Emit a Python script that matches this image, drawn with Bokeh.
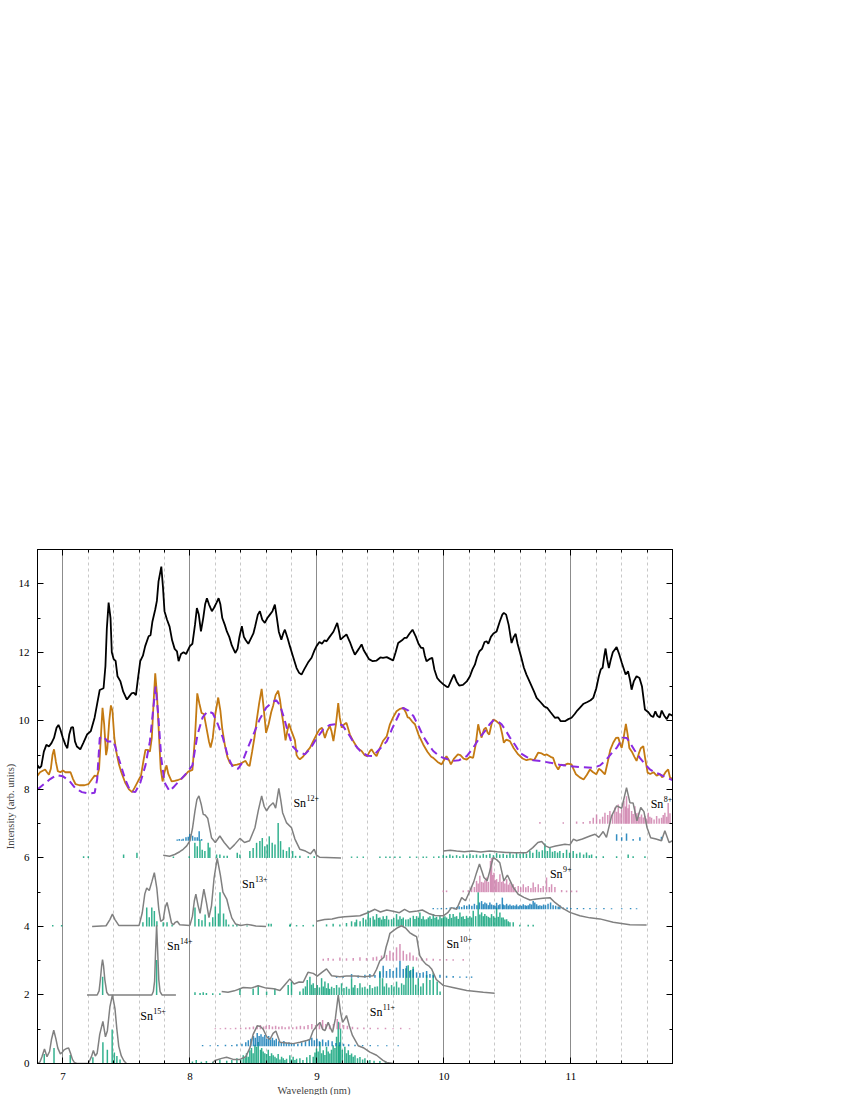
from bokeh.plotting import figure
from bokeh.models import (Range1d, SingleIntervalTicker, LinearAxis, Title,
                          CustomJSTickFormatter, ColumnDataSource)
from bokeh.core.properties import value
from bokeh.embed import file_html
from bokeh.resources import INLINE

# ---------------- data ----------------
exp_black = [(6.80,8.70),(6.815,8.62),(6.83,8.68),(6.85,9.10),(6.87,9.30),(6.89,9.25),(6.91,9.35),(6.93,9.50),
 (6.95,9.80),(6.965,9.88),(6.98,9.75),(7.00,9.50),(7.02,9.30),(7.035,9.20),(7.05,9.60),(7.065,9.80),(7.08,9.82),
 (7.095,9.40),(7.11,9.25),(7.137,9.17),(7.16,9.35),(7.19,9.60),(7.22,9.70),(7.25,10.10),(7.27,10.50),(7.29,10.90),
 (7.32,10.95),(7.335,11.6),(7.346,12.7),(7.36,13.45),(7.375,13.0),(7.385,12.0),(7.40,11.8),(7.415,11.75),(7.43,11.3),
 (7.452,11.16),(7.475,10.85),(7.504,10.62),(7.52,10.7),(7.54,10.8),(7.557,10.82),(7.575,10.75),(7.59,11.2),
 (7.609,11.74),(7.63,11.9),(7.648,12.18),(7.675,12.47),(7.69,12.5),(7.705,12.9),(7.727,13.25),(7.74,13.5),
 (7.753,14.07),(7.775,14.5),(7.788,13.9),(7.80,13.2),(7.82,12.95),(7.84,12.75),(7.86,12.35),(7.88,12.1),(7.898,12.03),
 (7.911,11.74),(7.93,11.95),(7.95,12.0),(7.97,11.95),(8.00,12.18),(8.02,12.25),(8.04,12.8),(8.055,13.29),(8.07,13.1),
 (8.087,12.61),(8.105,13.0),(8.12,13.4),(8.134,13.58),(8.15,13.4),(8.173,13.2),(8.19,13.3),(8.21,13.45),(8.226,13.58),
 (8.24,13.4),(8.255,13.0),(8.275,12.8),(8.291,12.61),(8.31,12.45),(8.33,12.2),(8.357,11.98),(8.375,12.1),(8.39,12.45),
 (8.409,12.76),(8.425,12.45),(8.44,12.35),(8.46,12.25),(8.48,12.4),(8.50,12.55),(8.514,12.76),(8.535,13.1),(8.551,13.2),
 (8.57,12.95),(8.59,12.86),(8.61,13.0),(8.63,13.1),(8.65,13.2),(8.669,13.39),(8.685,13.0),(8.70,12.6),(8.72,12.37),
 (8.735,12.55),(8.748,12.66),(8.77,12.4),(8.787,12.18),(8.81,11.9),(8.84,11.54),(8.86,11.4),(8.879,11.35),(8.90,11.5),
 (8.93,11.7),(8.958,11.84),(8.98,12.05),(8.997,12.18),(9.02,12.3),(9.04,12.25),(9.06,12.35),(9.076,12.32),(9.10,12.45),
 (9.13,12.6),(9.16,12.86),(9.175,12.6),(9.186,12.37),(9.21,12.45),(9.233,12.52),(9.26,12.3),(9.28,12.1),(9.299,11.93),
 (9.33,12.1),(9.352,12.23),(9.37,12.05),(9.39,11.93),(9.41,11.8),(9.44,11.74),(9.47,11.76),(9.50,11.85),(9.52,11.84),
 (9.55,11.86),(9.58,11.8),(9.60,11.76),(9.62,12.0),(9.64,12.27),(9.67,12.35),(9.69,12.42),(9.706,12.42),(9.73,12.55),
 (9.753,12.66),(9.78,12.45),(9.80,12.25),(9.82,12.13),(9.837,12.13),(9.85,11.9),(9.863,11.74),(9.885,11.8),(9.908,11.84),
 (9.925,11.5),(9.947,11.25),(9.97,11.15),(10.00,11.05),(10.02,11.0),(10.034,10.98),(10.06,11.2),(10.079,11.35),
 (10.10,11.15),(10.12,11.03),(10.15,11.05),(10.18,11.15),(10.205,11.3),(10.225,11.5),(10.244,11.64),(10.26,11.85),
 (10.28,12.03),(10.30,12.1),(10.32,12.3),(10.336,12.32),(10.35,12.25),(10.37,12.45),(10.39,12.55),(10.415,12.61),
 (10.44,12.9),(10.46,13.1),(10.472,13.15),(10.49,13.1),(10.51,12.8),(10.533,12.27),(10.55,12.45),(10.565,12.54),
 (10.58,12.25),(10.61,11.84),(10.63,11.55),(10.65,11.35),(10.68,11.1),(10.71,10.85),(10.73,10.67),(10.76,10.55),
 (10.79,10.42),(10.813,10.38),(10.84,10.25),(10.874,10.09),(10.90,10.1),(10.92,9.99),(10.953,9.99),(10.98,10.05),
 (11.005,10.09),(11.03,10.2),(11.05,10.3),(11.07,10.38),(11.10,10.5),(11.13,10.55),(11.155,10.6),(11.176,10.67),
 (11.20,10.95),(11.22,11.3),(11.235,11.5),(11.25,11.55),(11.263,11.9),(11.273,12.11),(11.285,11.8),(11.299,11.54),
 (11.315,11.8),(11.33,12.0),(11.36,12.15),(11.38,11.95),(11.40,11.7),(11.431,11.35),(11.45,11.45),(11.465,11.2),
 (11.478,10.91),(11.495,11.15),(11.517,11.3),(11.54,11.25),(11.56,11.0),(11.583,10.33),(11.61,10.25),(11.63,10.15),
 (11.648,10.11),(11.665,10.28),(11.68,10.15),(11.70,10.1),(11.715,10.3),(11.735,10.15),(11.755,10.05),(11.775,10.2),
 (11.80,10.15)]

exp_orange = [(6.80,8.40),(6.82,8.50),(6.845,8.55),(6.86,8.58),(6.875,8.50),(6.89,8.43),(6.905,8.6),(6.918,9.0),
 (6.93,9.17),(6.945,8.8),(6.96,8.53),(6.98,8.50),(7.00,8.55),(7.02,8.50),(7.04,8.50),(7.06,8.5),(7.08,8.3),(7.10,8.15),
 (7.13,8.12),(7.17,8.12),(7.20,8.15),(7.23,8.3),(7.25,8.4),(7.27,8.38),(7.285,8.6),(7.30,9.6),(7.312,10.38),(7.325,9.9),
 (7.34,9.0),(7.35,9.2),(7.365,10.0),(7.378,10.45),(7.39,10.3),(7.405,9.5),(7.42,9.1),(7.44,8.75),(7.46,8.5),(7.49,8.2),
 (7.52,8.0),(7.545,7.92),(7.565,8.05),(7.593,8.25),(7.615,8.4),(7.635,8.85),(7.65,9.15),(7.67,9.15),(7.685,9.1),
 (7.70,9.5),(7.715,10.6),(7.727,11.39),(7.74,10.8),(7.755,9.7),(7.77,8.6),(7.785,8.23),(7.80,8.5),(7.816,8.7),
 (7.83,8.45),(7.856,8.23),(7.88,8.25),(7.91,8.28),(7.934,8.31),(7.96,8.4),(7.987,8.52),(8.02,8.57),(8.04,9.5),
 (8.058,10.8),(8.075,10.5),(8.092,10.23),(8.11,10.2),(8.13,9.8),(8.15,9.4),(8.163,9.22),(8.18,9.5),(8.20,10.2),
 (8.223,10.68),(8.24,10.3),(8.254,9.79),(8.275,9.3),(8.295,8.95),(8.315,8.77),(8.34,8.7),(8.37,8.72),(8.40,8.75),
 (8.42,8.8),(8.438,8.83),(8.455,8.72),(8.47,8.68),(8.49,9.1),(8.51,9.55),(8.525,9.99),(8.545,10.5),(8.565,10.93),
 (8.58,10.4),(8.60,9.65),(8.62,9.9),(8.64,10.25),(8.656,10.45),(8.675,10.75),(8.695,10.88),(8.71,10.6),(8.72,10.31),
 (8.737,9.9),(8.753,9.43),(8.767,9.7),(8.78,9.92),(8.80,9.7),(8.827,9.43),(8.84,9.0),(8.853,8.92),(8.866,8.88),
 (8.89,8.95),(8.92,9.1),(8.945,9.21),(8.97,9.4),(8.997,9.6),(9.02,9.75),(9.04,9.8),(9.063,9.5),(9.08,9.7),(9.102,9.85),
 (9.115,9.7),(9.13,9.41),(9.15,9.9),(9.168,10.52),(9.18,10.1),(9.195,9.8),(9.215,9.9),(9.233,9.94),(9.26,9.6),
 (9.286,9.41),(9.32,9.2),(9.352,9.12),(9.375,9.0),(9.396,8.97),(9.415,9.1),(9.43,9.17),(9.45,9.05),(9.47,8.97),
 (9.495,9.2),(9.52,9.41),(9.55,9.55),(9.575,9.9),(9.60,10.1),(9.627,10.28),(9.655,10.35),(9.68,10.38),(9.70,10.25),
 (9.715,10.1),(9.727,10.09),(9.75,9.98),(9.772,9.9),(9.80,9.6),(9.837,9.31),(9.87,9.1),(9.90,8.95),(9.916,8.92),
 (9.95,8.8),(9.982,8.73),(10.00,8.85),(10.02,8.97),(10.04,8.85),(10.055,8.73),(10.08,8.9),(10.11,9.02),(10.13,9.0),
 (10.155,8.9),(10.18,8.87),(10.205,8.95),(10.23,8.92),(10.25,9.3),(10.27,9.9),(10.285,9.65),(10.297,9.51),(10.315,9.75),
 (10.33,9.8),(10.345,9.65),(10.357,9.6),(10.375,9.9),(10.388,10.04),(10.41,10.0),(10.441,9.9),(10.46,9.6),(10.472,9.36),
 (10.49,9.45),(10.52,9.41),(10.55,9.2),(10.585,9.02),(10.62,8.9),(10.65,8.85),(10.68,8.88),(10.71,8.85),(10.742,9.07),
 (10.77,9.05),(10.79,9.0),(10.81,9.02),(10.84,8.95),(10.86,8.92),(10.88,8.7),(10.90,8.58),(10.92,8.72),(10.945,8.7),
 (10.975,8.75),(11.005,8.73),(11.02,8.6),(11.04,8.44),(11.07,8.35),(11.10,8.29),(11.125,8.42),(11.15,8.58),(11.175,8.5),
 (11.20,8.44),(11.22,8.6),(11.24,8.55),(11.268,8.44),(11.29,8.8),(11.31,9.15),(11.333,9.36),(11.355,9.5),(11.373,9.51),
 (11.39,9.3),(11.40,9.21),(11.415,9.5),(11.433,9.91),(11.447,9.6),(11.46,9.21),(11.48,9.1),(11.50,8.95),(11.517,8.83),
 (11.535,9.05),(11.55,9.2),(11.57,9.26),(11.585,8.9),(11.604,8.49),(11.625,8.45),(11.65,8.5),(11.675,8.4),(11.70,8.45),
 (11.72,8.35),(11.745,8.5),(11.766,8.58),(11.78,8.35),(11.80,8.3)]

model_purple = [(6.80,8.0),(6.85,8.15),(6.90,8.3),(6.95,8.42),(7.00,8.38),(7.05,8.25),(7.10,8.02),(7.15,7.92),
 (7.20,7.88),(7.25,7.9),(7.27,8.3),(7.29,9.5),(7.32,9.55),(7.35,9.4),(7.40,9.4),(7.44,8.9),(7.49,8.3),(7.53,7.95),
 (7.57,7.92),(7.61,8.2),(7.65,8.7),(7.685,9.4),(7.71,10.3),(7.73,11.0),(7.75,10.2),(7.775,8.9),(7.80,8.2),(7.84,7.95),
 (7.88,8.1),(7.93,8.3),(7.98,8.5),(8.02,8.7),(8.06,9.6),(8.10,10.1),(8.14,10.28),(8.18,10.22),(8.22,9.9),(8.26,9.5),
 (8.30,8.95),(8.34,8.63),(8.38,8.6),(8.41,8.77),(8.46,9.25),(8.50,9.6),(8.55,10.05),(8.60,10.38),(8.65,10.55),
 (8.68,10.6),(8.71,10.45),(8.74,10.1),(8.77,9.7),(8.81,9.25),(8.85,9.1),(8.906,9.02),(8.95,9.2),(9.00,9.5),(9.05,9.75),
 (9.10,9.88),(9.15,9.9),(9.20,9.88),(9.26,9.55),(9.30,9.3),(9.34,9.12),(9.40,8.98),(9.44,8.97),(9.50,9.2),(9.55,9.4),
 (9.59,9.75),(9.627,10.04),(9.66,10.3),(9.68,10.38),(9.72,10.3),(9.76,10.14),(9.80,9.85),(9.837,9.55),(9.88,9.3),
 (9.916,9.12),(9.96,8.98),(9.995,8.92),(10.03,8.88),(10.07,8.83),(10.12,8.85),(10.18,8.97),(10.23,9.21),(10.28,9.5),
 (10.323,9.7),(10.36,9.9),(10.388,10.01),(10.42,10.0),(10.454,9.9),(10.49,9.7),(10.52,9.51),(10.56,9.3),(10.598,9.07),
 (10.65,8.95),(10.703,8.85),(10.77,8.82),(10.835,8.78),(10.91,8.72),(10.992,8.68),(11.08,8.65),(11.176,8.63),
 (11.23,8.7),(11.28,8.87),(11.32,9.05),(11.36,9.21),(11.41,9.51),(11.44,9.5),(11.465,9.36),(11.50,9.15),(11.543,8.92),
 (11.58,8.75),(11.622,8.58),(11.66,8.5),(11.70,8.44),(11.75,8.35),(11.80,8.27)]

# synthetic spectra per charge state (plotted values, offset included)
sn15_curve = [(6.80,0.0),(6.82,0.05),(6.835,0.2),(6.855,0.42),(6.875,0.2),(6.895,0.35),(6.91,0.7),(6.928,0.97),
 (6.945,0.72),(6.96,0.45),(6.98,0.28),(6.995,0.33),(7.01,0.4),(7.03,0.44),(7.045,0.45),(7.06,0.3),(7.075,0.12),
 (7.09,0.03),(7.11,0.0),(7.20,0.0),(7.225,0.2),(7.24,0.38),(7.255,0.22),(7.27,0.3),(7.29,0.85),(7.315,1.23),
 (7.335,0.78),(7.35,0.95),(7.37,1.65),(7.39,2.0),(7.41,1.6),(7.425,1.0),(7.44,0.5),(7.46,0.22),(7.48,0.08),(7.50,0.0)]
sn14_curve = [(7.19,2.0),(7.27,2.0),(7.285,2.12),(7.295,2.45),(7.305,2.85),(7.312,3.03),(7.32,2.85),(7.33,2.45),
 (7.345,2.08),(7.36,2.0),(7.70,2.0),(7.712,2.1),(7.722,2.4),(7.73,3.3),(7.738,4.03),(7.746,3.3),(7.755,2.45),
 (7.765,2.1),(7.78,2.0),(7.89,2.0)]
sn13_curve = [(7.23,4.0),(7.34,4.02),(7.37,4.2),(7.39,4.36),(7.41,4.2),(7.44,4.03),(7.60,4.03),(7.625,4.4),
 (7.645,4.95),(7.66,5.12),(7.68,5.05),(7.70,5.3),(7.72,5.57),(7.74,5.1),(7.755,4.5),(7.77,4.15),(7.79,4.2),
 (7.805,4.55),(7.82,4.7),(7.835,4.45),(7.855,4.1),(7.87,4.05),(7.885,4.12),(7.90,4.15),(7.92,4.05),(8.0,4.03),
 (8.02,4.3),(8.035,4.75),(8.047,4.94),(8.065,4.6),(8.08,4.38),(8.095,4.75),(8.11,5.09),(8.13,4.7),(8.15,4.26),
 (8.17,4.6),(8.19,5.4),(8.215,5.99),(8.24,5.5),(8.26,5.0),(8.29,4.8),(8.31,4.5),(8.33,4.25),(8.36,4.07),(8.40,4.03),
 (8.45,4.06),(8.48,4.04),(8.52,4.01),(8.60,4.0)]
sn12_curve = [(7.79,6.08),(7.84,6.05),(7.88,6.1),(7.92,6.18),(7.947,6.25),(7.975,6.35),(8.0,6.5),(8.02,6.85),
 (8.04,7.37),(8.055,7.7),(8.071,7.81),(8.09,7.55),(8.105,7.27),(8.12,7.25),(8.14,7.16),(8.17,6.59),(8.2,6.45),
 (8.236,6.64),(8.27,6.45),(8.315,6.25),(8.35,6.38),(8.394,6.57),(8.43,6.45),(8.47,6.5),(8.512,6.88),(8.538,7.37),
 (8.565,7.81),(8.585,7.5),(8.604,7.37),(8.625,7.5),(8.656,7.61),(8.675,7.45),(8.70,8.03),(8.715,7.7),(8.73,7.32),
 (8.76,7.03),(8.80,6.88),(8.827,6.55),(8.866,6.25),(8.91,6.2),(8.95,6.12),(8.979,6.25),(8.997,6.08),(9.02,6.02),
 (9.19,6.0)]
sn11_curve = [(8.18,0.02),(8.197,0.09),(8.25,0.15),(8.289,0.18),(8.341,0.12),(8.394,0.12),(8.44,0.2),(8.472,0.45),
 (8.498,0.85),(8.53,1.1),(8.555,1.08),(8.577,1.0),(8.605,0.78),(8.63,0.7),(8.655,0.88),(8.677,0.95),(8.709,0.62),
 (8.761,0.6),(8.813,0.58),(8.866,0.62),(8.919,0.67),(8.945,0.7),(8.971,0.96),(9.0,1.1),(9.024,1.2),(9.045,1.0),
 (9.063,0.96),(9.089,1.2),(9.105,1.05),(9.123,0.91),(9.145,1.3),(9.168,2.0),(9.186,1.5),(9.202,1.2),(9.22,1.3),
 (9.233,1.4),(9.255,1.1),(9.28,0.82),(9.325,0.52),(9.365,0.46),(9.417,0.33),(9.47,0.24),(9.52,0.09),(9.55,0.03),
 (9.60,0.0)]
sn10_curve = [(8.25,2.1),(8.30,2.08),(8.35,2.12),(8.42,2.22),(8.48,2.2),(8.538,2.27),(8.60,2.2),(8.66,2.18),
 (8.709,2.13),(8.748,2.3),(8.787,2.47),(8.82,2.32),(8.86,2.38),(8.892,2.37),(8.93,2.66),(8.971,2.63),(9.003,2.55),
 (9.037,2.65),(9.076,2.76),(9.116,2.56),(9.181,2.53),(9.233,2.55),(9.30,2.55),(9.37,2.53),(9.443,2.56),(9.47,2.75),
 (9.496,3.0),(9.528,3.1),(9.545,3.4),(9.56,3.58),(9.575,3.8),(9.60,3.87),(9.63,3.95),(9.666,4.02),(9.70,3.95),
 (9.73,3.82),(9.76,3.75),(9.785,3.7),(9.81,3.15),(9.835,3.0),(9.858,2.9),(9.88,2.85),(9.903,2.76),(9.94,2.45),
 (9.995,2.28),(10.07,2.22),(10.18,2.13),(10.31,2.08),(10.40,2.05)]
sn9_curve = [(8.997,4.15),(9.06,4.2),(9.12,4.22),(9.168,4.26),(9.22,4.28),(9.28,4.3),(9.339,4.31),(9.40,4.4),
 (9.457,4.5),(9.50,4.42),(9.55,4.48),(9.60,4.44),(9.65,4.4),(9.69,4.5),(9.73,4.42),(9.79,4.45),(9.83,4.48),(9.88,4.38),
 (9.93,4.32),(9.995,4.31),(10.03,4.4),(10.06,4.55),(10.10,4.5),(10.14,4.84),(10.17,4.75),(10.205,5.04),(10.235,5.3),
 (10.257,5.57),(10.28,5.82),(10.30,5.6),(10.315,5.43),(10.34,5.33),(10.36,5.6),(10.388,6.01),(10.415,5.95),
 (10.44,5.86),(10.472,5.33),(10.50,5.5),(10.546,5.14),(10.585,4.94),(10.63,4.85),(10.677,4.77),(10.73,4.8),
 (10.78,4.82),(10.835,4.84),(10.874,4.7),(10.927,4.55),(10.992,4.41),(11.07,4.31),(11.15,4.25),(11.228,4.22),
 (11.333,4.12),(11.465,4.05),(11.596,4.04)]
sn8_curve = [(9.995,6.2),(10.05,6.22),(10.1,6.2),(10.16,6.18),(10.22,6.2),(10.29,6.17),(10.36,6.2),(10.42,6.18),
 (10.49,6.16),(10.56,6.15),(10.65,6.15),(10.70,6.3),(10.74,6.45),(10.77,6.48),(10.80,6.35),(10.83,6.3),(10.88,6.35),
 (10.953,6.4),(10.992,6.38),(11.02,6.55),(11.045,6.5),(11.09,6.55),(11.15,6.64),(11.19,6.69),(11.22,6.6),
 (11.254,6.77),(11.28,6.6),(11.32,7.22),(11.36,7.52),(11.40,7.45),(11.438,8.05),(11.465,7.61),(11.49,7.6),
 (11.52,7.08),(11.55,7.47),(11.575,7.35),(11.60,6.88),(11.628,6.59),(11.67,6.55),(11.713,6.5),(11.74,6.79),
 (11.773,6.45),(11.80,6.5)]

# stick spectra: (wavelength, relative intensity)
sn15_green = [(6.853,0.28),(6.93,0.45),(7.058,0.25),(7.236,0.18),(7.315,0.62),(7.35,0.4),(7.388,0.99),(7.405,0.32),
 (7.425,0.22),(7.45,0.12)]
sn14_green = [(7.313,0.53),(7.738,1.02)]
sn13_green = [(6.92,0.04),(6.99,0.04),(7.63,0.12),(7.66,0.55),(7.68,0.27),(7.70,0.55),(7.72,0.45),(7.74,0.15),
 (7.79,0.12),(7.82,0.12),(7.86,0.06),(8.04,0.55),(8.07,0.22),(8.095,0.18),(8.12,0.35),(8.155,0.12),(8.18,0.27),
 (8.20,0.58),(8.225,0.38),(8.237,1.0),(8.265,0.38),(8.285,0.2),(8.305,0.06),(8.34,0.05),(8.37,0.04),(8.45,0.03),
 (8.62,0.08),(8.64,0.08),(8.79,0.08)]
sn12_green = [(7.163,0.05),(7.20,0.05),(7.478,0.1),(7.583,0.15),(7.87,0.04),(7.995,0.05),(8.039,0.44),(8.058,0.34),
 (8.079,0.53),(8.097,0.24),(8.118,0.2),(8.144,0.44),(8.157,0.3),(8.21,0.1),(8.236,0.1),(8.268,0.06),(8.294,0.06),
 (8.373,0.15),(8.394,0.1),(8.472,0.2),(8.498,0.29),(8.525,0.44),(8.551,0.49),(8.57,0.58),(8.59,0.34),(8.609,0.39),
 (8.625,0.63),(8.648,0.44),(8.67,0.39),(8.695,1.02),(8.714,0.49),(8.735,0.24),(8.761,0.2),(8.782,0.31),(8.809,0.2),
 (8.832,0.06),(8.866,0.06),(8.932,0.05),(8.979,0.05)]
sn12_blue = [(7.90,0.04),(7.916,0.05),(7.934,0.04),(7.947,0.06),(7.969,0.1),(7.987,0.12),(8.0,0.2),(8.021,0.15),
 (8.04,0.1),(8.058,0.1),(8.073,0.28),(8.092,0.05)]
sn11_green = [(8.02,0.06),(8.05,0.1),(8.09,0.05),(8.13,0.07),(8.18,0.05),(8.236,0.12),(8.29,0.08),(8.33,0.1),
 (8.37,0.15),(8.40,0.12),(8.42,0.24),(8.435,0.18),(8.446,0.3),(8.46,0.2),(8.472,0.39),(8.485,0.45),(8.498,0.3),
 (8.512,0.55),(8.525,0.49),(8.538,0.63),(8.556,0.4),(8.565,0.45),(8.577,0.35),(8.59,0.3),(8.604,0.28),(8.617,0.4),
 (8.63,0.22),(8.643,0.3),(8.656,0.24),(8.67,0.2),(8.682,0.15),(8.695,0.28),(8.709,0.12),(8.722,0.2),(8.735,0.15),
 (8.748,0.1),(8.761,0.14),(8.787,0.24),(8.80,0.12),(8.813,0.2),(8.827,0.1),(8.84,0.14),(8.866,0.15),(8.89,0.1),
 (8.92,0.18),(8.945,0.25),(8.971,0.2),(8.985,0.32),(8.997,0.44),(9.01,0.35),(9.024,0.63),(9.037,0.3),(9.05,0.39),
 (9.063,0.25),(9.076,0.49),(9.089,0.35),(9.102,0.29),(9.115,0.4),(9.128,0.53),(9.142,0.45),(9.155,0.78),(9.168,1.22),
 (9.176,0.55),(9.186,1.02),(9.20,0.4),(9.22,0.49),(9.233,0.3),(9.247,0.39),(9.26,0.25),(9.273,0.29),(9.286,0.2),
 (9.30,0.24),(9.32,0.15),(9.339,0.19),(9.36,0.12),(9.378,0.15),(9.40,0.08),(9.417,0.1),(9.45,0.08),(9.496,0.07),
 (9.54,0.05)]
sn11_blue = [(8.10,0.04),(8.16,0.03),(8.22,0.04),(8.28,0.05),(8.33,0.04),(8.37,0.06),(8.41,0.08),(8.44,0.12),
 (8.46,0.18),(8.48,0.22),(8.50,0.3),(8.515,0.25),(8.53,0.39),(8.545,0.3),(8.56,0.35),(8.575,0.28),(8.59,0.33),
 (8.605,0.22),(8.62,0.3),(8.635,0.2),(8.65,0.25),(8.665,0.18),(8.68,0.22),(8.70,0.15),(8.72,0.12),(8.74,0.16),
 (8.76,0.1),(8.78,0.12),(8.80,0.08),(8.82,0.1),(8.85,0.08),(8.88,0.12),(8.91,0.15),(8.94,0.2),(8.96,0.25),(8.98,0.18),
 (9.00,0.22),(9.02,0.15),(9.045,0.2),(9.07,0.12),(9.09,0.18),(9.12,0.15),(9.15,0.1),(9.18,0.12),(9.21,0.08),
 (9.25,0.06),(9.30,0.05),(9.36,0.04),(9.42,0.04),(9.48,0.03),(9.55,0.03),(9.64,0.03)]
sn11_pink = [(8.20,0.03),(8.24,0.03),(8.28,0.04),(8.32,0.03),(8.36,0.04),(8.40,0.04),(8.44,0.05),(8.47,0.06),
 (8.50,0.08),(8.53,0.1),(8.555,0.12),(8.58,0.08),(8.60,0.1),(8.625,0.12),(8.65,0.08),(8.675,0.1),(8.70,0.07),
 (8.725,0.09),(8.75,0.06),(8.78,0.08),(8.81,0.06),(8.84,0.08),(8.87,0.1),(8.90,0.09),(8.93,0.12),(8.96,0.15),
 (8.99,0.12),(9.02,0.18),(9.045,0.27),(9.07,0.15),(9.10,0.12),(9.13,0.15),(9.16,0.3),(9.18,0.2),(9.21,0.12),
 (9.24,0.1),(9.28,0.07),(9.32,0.05),(9.37,0.05),(9.42,0.04),(9.48,0.04),(9.54,0.04),(9.60,0.03),(9.66,0.04),(9.73,0.03)]
sn10_green = [(8.04,0.08),(8.08,0.06),(8.105,0.08),(8.13,0.06),(8.18,0.05),(8.236,0.05),(8.394,0.19),(8.498,0.19),
 (8.538,0.29),(8.604,0.1),(8.669,0.19),(8.774,0.29),(8.8,0.39),(8.866,0.1),(8.892,0.19),(8.91,0.25),(8.924,0.44),
 (8.945,0.53),(8.958,0.3),(8.971,0.34),(8.985,0.2),(9.003,0.29),(9.02,0.22),(9.037,0.49),(9.05,0.25),(9.063,0.39),
 (9.076,0.2),(9.089,0.34),(9.10,0.18),(9.116,0.24),(9.135,0.2),(9.155,0.29),(9.175,0.22),(9.194,0.34),(9.213,0.2),
 (9.233,0.24),(9.253,0.18),(9.273,0.49),(9.286,0.22),(9.299,0.29),(9.32,0.2),(9.339,0.34),(9.358,0.22),(9.378,0.24),
 (9.398,0.18),(9.417,0.29),(9.437,0.2),(9.457,0.24),(9.476,0.25),(9.496,0.7),(9.517,0.49),(9.53,0.25),(9.548,0.34),
 (9.567,0.22),(9.588,0.29),(9.607,0.25),(9.627,0.39),(9.645,0.22),(9.667,0.34),(9.685,0.3),(9.701,0.78),(9.719,0.87),
 (9.738,0.73),(9.758,0.82),(9.778,0.3),(9.798,0.49),(9.818,0.25),(9.837,0.34),(9.864,0.58),(9.89,0.44),(9.916,0.65),
 (9.947,0.39),(9.97,0.1)]
sn10_blue = [(9.155,0.05),(9.207,0.05),(9.273,0.11),(9.325,0.07),(9.378,0.09),(9.417,0.11),(9.457,0.08),(9.496,0.16),
 (9.522,0.35),(9.548,0.2),(9.575,0.26),(9.6,0.2),(9.627,0.3),(9.654,0.5),(9.68,0.26),(9.706,0.35),(9.732,0.2),
 (9.758,0.26),(9.785,0.16),(9.811,0.14),(9.837,0.16),(9.864,0.2),(9.89,0.11),(9.916,0.08),(9.969,0.09),(10.021,0.06),
 (10.073,0.05),(10.126,0.04),(10.178,0.04),(10.218,0.04)]
sn10_pink = [(9.05,0.06),(9.089,0.08),(9.128,0.06),(9.181,0.09),(9.233,0.07),(9.286,0.08),(9.339,0.1),(9.391,0.08),
 (9.443,0.1),(9.47,0.12),(9.509,0.15),(9.548,0.17),(9.575,0.29),(9.6,0.24),(9.627,0.39),(9.654,0.49),(9.68,0.29),
 (9.706,0.19),(9.732,0.24),(9.758,0.15),(9.785,0.1),(9.824,0.08),(9.864,0.07),(9.916,0.06),(9.969,0.05),(10.021,0.05),
 (10.073,0.04),(10.152,0.05)]
sn9_green = [(8.787,0.04),(8.84,0.04),(8.892,0.04),(8.971,0.05),(9.076,0.06),(9.128,0.08),(9.181,0.06),(9.233,0.1),
 (9.273,0.15),(9.30,0.12),(9.312,0.2),(9.34,0.15),(9.365,0.25),(9.385,0.2),(9.404,0.46),(9.42,0.25),(9.443,0.3),
 (9.455,0.2),(9.47,0.36),(9.485,0.25),(9.496,0.26),(9.51,0.2),(9.522,0.3),(9.535,0.22),(9.549,0.31),(9.565,0.2),
 (9.588,0.21),(9.605,0.25),(9.627,0.36),(9.64,0.2),(9.654,0.3),(9.668,0.22),(9.68,0.26),(9.70,0.2),(9.719,0.21),
 (9.735,0.25),(9.759,0.31),(9.772,0.22),(9.785,0.3),(9.80,0.25),(9.811,0.41),(9.825,0.22),(9.837,0.3),(9.85,0.2),
 (9.864,0.21),(9.877,0.26),(9.89,0.3),(9.903,0.22),(9.916,0.36),(9.93,0.25),(9.942,0.28),(9.955,0.2),(9.969,0.31),
 (9.982,0.24),(9.995,0.26),(10.008,0.3),(10.021,0.26),(10.035,0.22),(10.047,0.36),(10.06,0.25),(10.073,0.36),
 (10.087,0.28),(10.1,0.3),(10.113,0.22),(10.126,0.41),(10.14,0.28),(10.152,0.3),(10.165,0.22),(10.178,0.31),
 (10.19,0.25),(10.205,0.3),(10.218,0.26),(10.231,0.46),(10.25,0.3),(10.27,1.0),(10.283,0.35),(10.297,0.41),
 (10.31,0.3),(10.322,0.36),(10.336,0.31),(10.35,0.28),(10.362,0.25),(10.375,0.36),(10.39,0.3),(10.402,0.25),
 (10.415,0.55),(10.428,0.28),(10.441,0.41),(10.455,0.26),(10.467,0.26),(10.48,0.2),(10.494,0.21),(10.507,0.15),
 (10.52,0.12),(10.546,0.12),(10.598,0.05),(10.664,0.05),(10.703,0.05)]
sn9_blue = [(9.916,0.04),(9.95,0.03),(9.98,0.04),(10.02,0.04),(10.05,0.05),(10.08,0.05),(10.1,0.07),(10.12,0.09),
 (10.14,0.07),(10.16,0.12),(10.18,0.1),(10.2,0.14),(10.22,0.1),(10.24,0.16),(10.26,0.12),(10.28,0.2),(10.297,0.24),
 (10.31,0.15),(10.323,0.2),(10.336,0.17),(10.35,0.12),(10.362,0.2),(10.375,0.14),(10.39,0.12),(10.402,0.1),
 (10.415,0.19),(10.43,0.12),(10.441,0.15),(10.46,0.34),(10.467,0.14),(10.48,0.12),(10.494,0.16),(10.507,0.11),
 (10.52,0.14),(10.533,0.1),(10.546,0.12),(10.56,0.1),(10.572,0.14),(10.585,0.09),(10.598,0.12),(10.612,0.1),
 (10.625,0.15),(10.64,0.12),(10.651,0.1),(10.664,0.12),(10.677,0.16),(10.69,0.14),(10.703,0.24),(10.716,0.2),
 (10.73,0.15),(10.743,0.1),(10.756,0.12),(10.77,0.1),(10.785,0.14),(10.8,0.12),(10.82,0.16),(10.84,0.2),(10.86,0.12),
 (10.88,0.1),(10.9,0.08),(10.913,0.12),(10.94,0.05),(10.97,0.05),(11.0,0.04),(11.05,0.04),(11.1,0.04),(11.15,0.04),
 (11.2,0.03),(11.26,0.04),(11.32,0.03),(11.4,0.03),(11.47,0.04),(11.517,0.03)]
sn9_pink = [(9.995,0.05),(10.021,0.05),(10.152,0.05),(10.192,0.06),(10.218,0.18),(10.24,0.15),(10.257,0.33),
 (10.27,0.25),(10.283,0.48),(10.297,0.3),(10.31,0.28),(10.323,0.35),(10.336,0.43),(10.35,0.3),(10.367,0.91),
 (10.375,1.0),(10.385,0.5),(10.394,0.57),(10.405,0.35),(10.415,0.38),(10.428,0.3),(10.441,0.52),(10.455,0.3),
 (10.467,0.33),(10.48,0.25),(10.494,0.38),(10.507,0.22),(10.52,0.28),(10.533,0.2),(10.546,0.23),(10.56,0.15),
 (10.585,0.18),(10.605,0.14),(10.625,0.23),(10.645,0.14),(10.664,0.18),(10.685,0.12),(10.703,0.28),(10.72,0.15),
 (10.743,0.23),(10.762,0.12),(10.782,0.18),(10.808,0.43),(10.83,0.15),(10.848,0.23),(10.874,0.15),(10.927,0.06),
 (10.966,0.05),(11.005,0.05),(11.045,0.05)]
sn8_green = [(9.273,0.04),(9.318,0.04),(9.365,0.04),(9.496,0.04),(9.543,0.04),(9.575,0.04),(9.614,0.04),(9.654,0.04),
 (9.732,0.04),(9.785,0.04),(9.837,0.04),(9.863,0.04),(9.92,0.04),(9.96,0.05),(9.995,0.08),(10.02,0.06),(10.047,0.1),
 (10.07,0.06),(10.1,0.08),(10.125,0.05),(10.152,0.1),(10.18,0.07),(10.205,0.12),(10.23,0.08),(10.257,0.1),
 (10.285,0.07),(10.31,0.12),(10.335,0.09),(10.362,0.12),(10.39,0.08),(10.415,0.14),(10.44,0.1),(10.467,0.12),
 (10.495,0.09),(10.52,0.14),(10.545,0.1),(10.572,0.16),(10.6,0.12),(10.625,0.15),(10.65,0.12),(10.677,0.2),
 (10.70,0.15),(10.73,0.24),(10.75,0.18),(10.775,0.22),(10.795,0.42),(10.815,0.2),(10.835,0.29),(10.855,0.18),
 (10.874,0.2),(10.895,0.16),(10.913,0.2),(10.94,0.14),(10.966,0.24),(10.99,0.15),(11.018,0.2),(11.045,0.12),
 (11.071,0.16),(11.1,0.1),(11.123,0.16),(11.145,0.08),(11.163,0.1),(11.2,0.05),(11.255,0.05),(11.36,0.05),
 (11.451,0.1),(11.49,0.05),(11.583,0.05)]
sn8_blue = [(11.36,0.19),(11.40,0.1),(11.438,0.21),(11.49,0.05),(11.543,0.1),(11.713,0.12)]
sn8_pink = [(10.756,0.05),(10.94,0.04),(11.045,0.06),(11.097,0.05),(11.15,0.08),(11.176,0.17),(11.202,0.27),
 (11.228,0.13),(11.25,0.2),(11.268,0.32),(11.29,0.25),(11.307,0.37),(11.328,0.27),(11.346,0.47),(11.36,0.35),
 (11.373,0.56),(11.387,0.3),(11.4,0.42),(11.417,0.66),(11.43,0.5),(11.438,0.8),(11.45,0.45),(11.459,0.56),
 (11.478,0.37),(11.49,0.28),(11.504,0.51),(11.517,0.3),(11.53,0.32),(11.543,0.2),(11.556,0.27),(11.57,0.18),
 (11.583,0.22),(11.596,0.15),(11.609,0.32),(11.622,0.2),(11.635,0.17),(11.655,0.12),(11.675,0.22),(11.695,0.15),
 (11.714,0.17),(11.727,0.25),(11.74,0.32),(11.755,0.2),(11.766,0.6),(11.78,0.3)]

# charge-state offsets and labels
ion_names = ["15+", "14+", "13+", "12+", "11+", "10+", "9+", "8+"]
ion_offsets = [0, 2, 4, 6, 0, 2, 4, 6]
label_wl = [7.61, 7.82, 8.41, 8.815, 9.417, 10.02, 10.835, 11.628]
label_int = [1.4, 3.44, 5.24, 7.6, 1.5, 3.5, 5.53, 7.57]

GREEN, BLUE, PINK = "#009E73", "#0072B2", "#CC79A7"
SERIF = "Liberation Serif"

p = figure(x_range=Range1d(6.8, 11.8), y_range=Range1d(0, 15),
           frame_width=635, frame_height=514,
           min_border_left=37, min_border_right=20, min_border_top=549, min_border_bottom=30,
           output_backend="svg", toolbar_location=None,
           background_fill_color="white", border_fill_color="white")
p.outline_line_color = "black"
p.outline_line_width = 1

xt = SingleIntervalTicker(interval=1, num_minor_ticks=5)
yt = SingleIntervalTicker(interval=2, num_minor_ticks=2)
p.xaxis.ticker = xt
p.yaxis.ticker = yt
p.xgrid.ticker = xt
p.xgrid.grid_line_color = "#8c8c8c"
p.xgrid.grid_line_width = 1
p.xgrid.minor_grid_line_color = "#c8c8c8"
p.xgrid.minor_grid_line_dash = "3 3"
p.ygrid.visible = False

for ax in [p.xaxis[0], p.yaxis[0]]:
    ax.major_tick_in = 6
    ax.major_tick_out = 0
    ax.minor_tick_in = 3
    ax.minor_tick_out = 0
    ax.axis_line_color = "black"
    ax.major_tick_line_color = "black"
    ax.minor_tick_line_color = "black"
    ax.major_label_text_font = SERIF
    ax.major_label_text_font_size = "11px"
    ax.major_label_text_color = "black"
p.xaxis.major_label_standoff = 9
p.yaxis.major_label_standoff = 8
p.yaxis.axis_label = "Intensity (arb. units)"
p.yaxis.axis_label_text_font = SERIF
p.yaxis.axis_label_text_font_size = "10.5px"
p.yaxis.axis_label_text_font_style = "normal"
p.yaxis.axis_label_standoff = 0

p.add_layout(Title(text="Wavelength (nm)", align="left", offset=240, standoff=0,
                   text_font=SERIF, text_font_size="10.5px", text_font_style="normal"), "below")

blank = CustomJSTickFormatter(code="return ''")
top_ax = LinearAxis(ticker=SingleIntervalTicker(interval=1, num_minor_ticks=5), formatter=blank,
                    major_tick_in=6, major_tick_out=0, minor_tick_in=3, minor_tick_out=0,
                    major_label_text_font_size="1px", major_label_standoff=0)
right_ax = LinearAxis(ticker=SingleIntervalTicker(interval=2, num_minor_ticks=2), formatter=blank,
                      major_tick_in=6, major_tick_out=0, minor_tick_in=3, minor_tick_out=0,
                      major_label_text_font_size="1px", major_label_standoff=0)
p.add_layout(top_ax, "above")
p.add_layout(right_ax, "right")

def unzip(pairs):
    return [a for a, _ in pairs], [b for _, b in pairs]

def sticks(pairs, base, color, alpha=0.8):
    xs, hs = unzip(pairs)
    p.segment(x0=xs, y0=[base] * len(xs), x1=xs, y1=[base + h for h in hs],
              line_color=color, line_width=1.5, line_alpha=alpha)

# stick spectra (green at offset, blue +0.5, pink +1.0)
sticks(sn15_green, ion_offsets[0], GREEN)
sticks(sn14_green, ion_offsets[1], GREEN)
sticks(sn13_green, ion_offsets[2], GREEN)
sticks(sn12_green, ion_offsets[3], GREEN)
sticks(sn12_blue, ion_offsets[3] + 0.5, BLUE)
sticks(sn11_green, ion_offsets[4], GREEN)
sticks(sn11_blue, ion_offsets[4] + 0.5, BLUE)
sticks(sn11_pink, ion_offsets[4] + 1.0, PINK)
sticks(sn10_green, ion_offsets[5], GREEN)
sticks(sn10_blue, ion_offsets[5] + 0.5, BLUE)
sticks(sn10_pink, ion_offsets[5] + 1.0, PINK)
sticks(sn9_green, ion_offsets[6], GREEN)
sticks(sn9_blue, ion_offsets[6] + 0.5, BLUE)
sticks(sn9_pink, ion_offsets[6] + 1.0, PINK)
sticks(sn8_green, ion_offsets[7], GREEN)
sticks(sn8_blue, ion_offsets[7] + 0.5, BLUE)
sticks(sn8_pink, ion_offsets[7] + 1.0, PINK)

for curve in [sn15_curve, sn14_curve, sn13_curve, sn12_curve, sn11_curve, sn10_curve, sn9_curve, sn8_curve]:
    xs, ys = unzip(curve)
    p.line(xs, ys, line_color="#808080", line_width=1.5)

xs, ys = unzip(exp_black)
p.line(xs, ys, line_color="black", line_width=1.8)
xs, ys = unzip(exp_orange)
p.line(xs, ys, line_color="#C47A12", line_width=1.8)
xs, ys = unzip(model_purple)
p.line(xs, ys, line_color="#8A2BE2", line_width=2, line_dash="8 5")

# charge-state labels
src = ColumnDataSource(dict(x=label_wl, y=label_int, sup=ion_names, sn=["Sn"] * len(ion_names)))
p.text(x="x", y="y", text="sn", source=src, text_font=value(SERIF), text_font_size="12px",
       text_color="black", text_align="left", text_baseline="alphabetic")
p.text(x="x", y="y", text="sup", source=src, text_font=value(SERIF), text_font_size="8px",
       text_color="black", text_align="left", text_baseline="alphabetic", x_offset=13, y_offset=-5)

open("out.html", "w").write(file_html(p, INLINE))
